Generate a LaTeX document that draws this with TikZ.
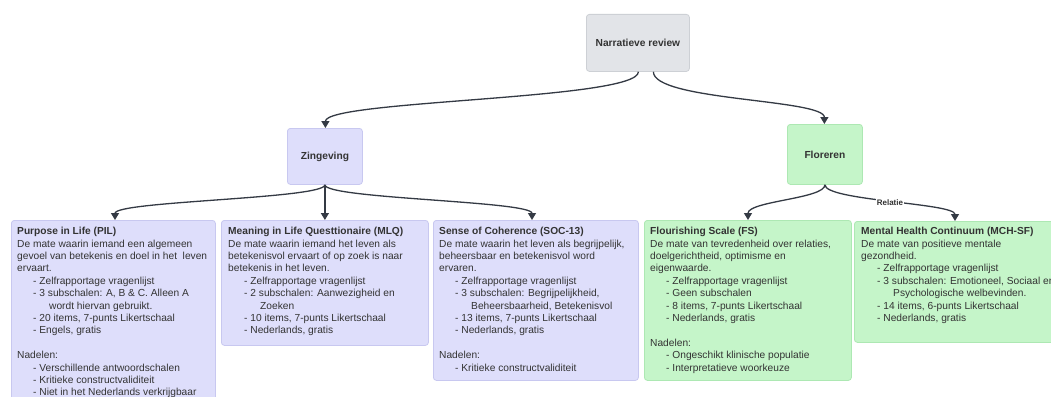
\documentclass[tikz,border=0pt]{standalone}
\usepackage{fontspec}
\setmainfont{Liberation Sans}
\usetikzlibrary{arrows.meta,calc}
\definecolor{grayfill}{HTML}{E2E4E8}
\definecolor{graydraw}{HTML}{CDD0D5}
\definecolor{purpfill}{HTML}{DEDEFB}
\definecolor{purpdraw}{HTML}{C8C8F0}
\definecolor{greenfill}{HTML}{C5F5C9}
\definecolor{greendraw}{HTML}{ADE8B3}
\definecolor{txtcol}{HTML}{333333}
\definecolor{edgecol}{HTML}{343A44}
\tikzset{
  box/.style={rounded corners=3pt, line width=0.8pt, inner sep=0pt, anchor=north west},
  graybox/.style={box, fill=grayfill, draw=graydraw},
  purpbox/.style={box, fill=purpfill, draw=purpdraw},
  greenbox/.style={box, fill=greenfill, draw=greendraw},
  hdr/.style={font=\fontsize{10.2}{12.4}\selectfont\bfseries, text=txtcol},
  txt/.style={anchor=north west, inner sep=0pt, align=left, text=txtcol,
    font=\fontsize{10.2}{12.4}\selectfont},
  edge/.style={draw=edgecol, line width=1.3pt, -{Triangle[length=7pt,width=8pt]}},
  rel/.style={font=\fontsize{8}{9}\selectfont\bfseries, text=txtcol, fill=white, inner sep=0.8pt}
}
\newcommand{\bl}{\hspace*{16pt}- }
\newcommand{\cl}{\hspace*{32pt}}
\newcommand{\fl}{\rule{0pt}{9.4pt}}
\begin{document}
\begin{tikzpicture}[x=1pt,y=-1pt]
\clip (0,0) rectangle (1051,396);
\fill[white] (0,0) rectangle (1051,396);

% top level nodes
\node[graybox, minimum width=103pt, minimum height=57pt] (nr) at (586,14) {};
\node[hdr] (nrt) at (nr.center) {Narratieve review};
\node[purpbox, minimum width=75pt, minimum height=56pt] (zing) at (287,128) {};
\node[hdr] (zingt) at (zing.center) {Zingeving};
\node[greenbox, minimum width=75pt, minimum height=60pt] (flo) at (787,124) {};
\node[hdr] (flot) at (flo.center) {Floreren};

% boxes
\node[purpbox, minimum width=204pt, minimum height=190pt] (pil) at (11,220) {};
\node[txt] (pilt) at ([shift={(6,5)}]pil.north west) {\fl\textbf{Purpose in Life (PIL)}\\
De mate waarin iemand een algemeen\\
gevoel van betekenis en doel in het\ \ leven\\
ervaart.\\
\bl Zelfrapportage vragenlijst\\
\bl 3 subschalen: A, B \& C. Alleen A\\
\cl wordt hiervan gebruikt.\\
\bl 20 items, 7-punts Likertschaal\\
\bl Engels, gratis\\
\mbox{}\\
Nadelen:\\
\bl Verschillende antwoordschalen\\
\bl Kritieke constructvaliditeit\\
\bl Niet in het Nederlands verkrijgbaar};

\node[purpbox, minimum width=207pt, minimum height=125pt] (mlq) at (221,220) {};
\node[txt] (mlqt) at ([shift={(7,5)}]mlq.north west) {\fl\textbf{Meaning in Life Questtionaire (MLQ)}\\
De mate waarin iemand het leven als\\
betekenisvol ervaart of op zoek is naar\\
betekenis in het leven.\\
\bl Zelfrapportage vragenlijst\\
\bl 2 subschalen: Aanwezigheid en\\
\cl Zoeken\\
\bl 10 items, 7-punts Likertschaal\\
\bl Nederlands, gratis};

\node[purpbox, minimum width=205pt, minimum height=160pt] (soc) at (433,220) {};
\node[txt] (soct) at ([shift={(6,5)}]soc.north west) {\fl\textbf{Sense of Coherence (SOC-13)}\\
De mate waarin het leven als begrijpelijk,\\
beheersbaar en betekenisvol word\\
ervaren.\\
\bl Zelfrapportage vragenlijst\\
\bl 3 subschalen: Begrijpelijkheid,\\
\cl Beheersbaarheid, Betekenisvol\\
\bl 13 items, 7-punts Likertschaal\\
\bl Nederlands, gratis\\
\mbox{}\\
Nadelen:\\
\bl Kritieke constructvaliditeit};

\node[greenbox, minimum width=207pt, minimum height=160pt] (fs) at (644,220) {};
\node[txt] (fst) at ([shift={(6,5)}]fs.north west) {\fl\textbf{Flourishing Scale (FS)}\\
De mate van tevredenheid over relaties,\\
doelgerichtheid, optimisme en\\
eigenwaarde.\\
\bl Zelfrapportage vragenlijst\\
\bl Geen subschalen\\
\bl 8 items, 7-punts Likertschaal\\
\bl Nederlands, gratis\\
\mbox{}\\
Nadelen:\\
\bl Ongeschikt klinische populatie\\
\bl Interpretatieve woorkeuze};

\node[greenbox, minimum width=210pt, minimum height=121pt] (mch) at (854,221) {};
\node[txt] (mcht) at ([shift={(7,4)}]mch.north west) {\fl\textbf{Mental Health Continuum (MCH-SF)}\\
De mate van positieve mentale\\
gezondheid.\\
\bl Zelfrapportage vragenlijst\\
\bl 3 subschalen: Emotioneel, Sociaal en\\
\cl Psychologische welbevinden.\\
\bl 14 items, 6-punts Likertschaal\\
\bl Nederlands, gratis};

% edges
\draw[edge] ([xshift=0.5pt]nr.south) .. controls +(0,28) and +(0,-28) .. ([xshift=0.5pt]zing.north);
\draw[edge] ([xshift=15.5pt]nr.south) .. controls +(0,29) and +(0,-25) .. ([xshift=-0.5pt]flo.north);
\draw[edge] (zing.south) .. controls +(0,14) and +(0,-19) .. ([xshift=104pt]pil.north west);
\draw[edge] (zing.south) -- (zing.south |- mlq.north);
\draw[edge] (zing.south) .. controls +(0,14) and +(0,-19) .. ([xshift=99pt]soc.north west);
\draw[edge] (flo.south) .. controls +(0,14) and +(0,-19) .. ([xshift=104pt]fs.north west);
\draw[edge] (flo.south) .. controls +(0,16) and +(0,-18) .. node[rel, pos=0.5] {Relatie} ([xshift=101pt]mch.north west);
\end{tikzpicture}
\end{document}
